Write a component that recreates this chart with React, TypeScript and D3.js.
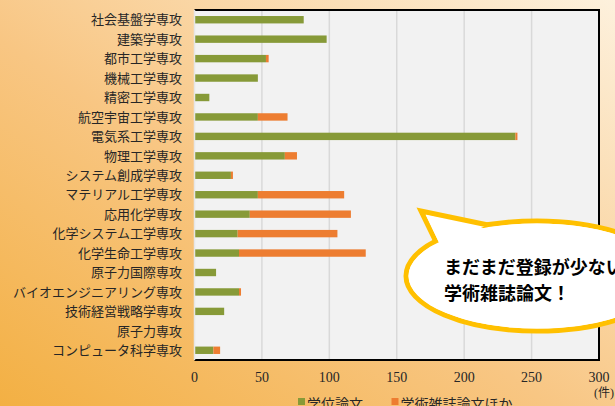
import * as d3 from "d3";
import { useRef, useEffect } from "react";

const categories = [
  "社会基盤学専攻",
  "建築学専攻",
  "都市工学専攻",
  "機械工学専攻",
  "精密工学専攻",
  "航空宇宙工学専攻",
  "電気系工学専攻",
  "物理工学専攻",
  "システム創成学専攻",
  "マテリアル工学専攻",
  "応用化学専攻",
  "化学システム工学専攻",
  "化学生命工学専攻",
  "原子力国際専攻",
  "バイオエンジニアリング専攻",
  "技術経営戦略学専攻",
  "原子力専攻",
  "コンピュータ科学専攻",
];
const thesis = [81, 98, 53, 47, 11, 47, 238, 67, 27, 47, 41, 32, 33, 16, 33, 22, 0, 14];
const journal = [0, 0, 2, 0, 0, 22, 1.5, 9, 1.5, 64, 75, 74, 94, 0, 1.5, 0, 0, 5];
const seriesNames = ["学位論文", "学術雑誌論文ほか"];
const xTicks = [0, 50, 100, 150, 200, 250, 300];

const colors = ["#879a38", "#ed7d31"];

export default function App() {
  const width = 615;
  const height = 406;
  const marginTop = 10;
  const marginBottom = 46;
  const marginLeft = 194.5;
  const marginRight = 16;

  const ref = useRef(null);

  useEffect((): void => {
    if (!ref.current) return;
    const svg = d3.select(ref.current);
    svg.selectAll("*").remove();
    svg.attr("width", width).attr("height", height);

    const x = d3.scaleLinear().domain([0, 300]).range([marginLeft, width - marginRight]);
    const y = d3
      .scaleBand<string>()
      .domain(categories)
      .range([marginTop, height - marginBottom])
      .paddingInner(0.62)
      .paddingOuter(0.31);

    // background gradient
    const defs = svg.append("defs");
    const grad = defs
      .append("linearGradient")
      .attr("id", "bg")
      .attr("x1", "0")
      .attr("y1", "1")
      .attr("x2", "1")
      .attr("y2", "0");
    grad.append("stop").attr("offset", "0").attr("stop-color", "#f3b043");
    grad.append("stop").attr("offset", "0.45").attr("stop-color", "#f8c683");
    grad.append("stop").attr("offset", "1").attr("stop-color", "#fdf1dd");

    svg.append("rect").attr("width", width).attr("height", height).attr("fill", "url(#bg)");

    // plot area
    svg
      .append("rect")
      .attr("x", marginLeft)
      .attr("y", marginTop)
      .attr("width", width - marginRight - marginLeft)
      .attr("height", height - marginBottom - marginTop)
      .attr("fill", "#f2f2f2");

    // gridlines
    svg
      .append("g")
      .selectAll("line")
      .data(xTicks.slice(1, -1))
      .join("line")
      .attr("x1", (d) => x(d))
      .attr("x2", (d) => x(d))
      .attr("y1", marginTop)
      .attr("y2", height - marginBottom)
      .attr("stroke", "#d9d9d9")
      .attr("stroke-width", 1.5);

    // stacked bars
    const rows = categories.map((c, i) => ({ cat: c, a: thesis[i], b: journal[i] }));
    const stack = d3.stack<{ cat: string; a: number; b: number }>().keys(["a", "b"]);
    const layers = stack(rows as any);

    svg
      .append("g")
      .selectAll("g")
      .data(layers)
      .join("g")
      .attr("fill", (_, i) => colors[i])
      .selectAll("rect")
      .data((d) => d)
      .join("rect")
      .attr("x", (d) => x(d[0]))
      .attr("y", (d) => y(d.data.cat)!)
      .attr("width", (d) => Math.max(0, x(d[1]) - x(d[0])))
      .attr("height", y.bandwidth());

    // plot border: black top/right/bottom, light left
    const x0 = marginLeft;
    const x1 = width - marginRight;
    const y0 = marginTop;
    const y1 = height - marginBottom;
    svg
      .append("path")
      .attr("d", `M${x0},${y0}H${x1}V${y1}H${x0}`)
      .attr("fill", "none")
      .attr("stroke", "#000")
      .attr("stroke-width", 2);
    svg
      .append("line")
      .attr("x1", x0)
      .attr("x2", x0)
      .attr("y1", y0)
      .attr("y2", y1)
      .attr("stroke", "#e6e6e6")
      .attr("stroke-width", 1.5);

    // category labels
    svg
      .append("g")
      .selectAll("text")
      .data(categories)
      .join("text")
      .attr("x", 182)
      .attr("y", (d) => y(d)! + y.bandwidth() / 2)
      .attr("dy", "0.36em")
      .attr("text-anchor", "end")
      .attr("font-family", "'Liberation Serif', 'Noto Sans CJK JP', serif")
      .attr("font-size", 13)
      .attr("fill", "#262626")
      .text((d) => d);

    // x tick labels
    svg
      .append("g")
      .selectAll("text")
      .data(xTicks)
      .join("text")
      .attr("x", (d) => x(d))
      .attr("y", 382)
      .attr("text-anchor", "middle")
      .attr("font-family", "'Liberation Serif', serif")
      .attr("font-size", 14)
      .attr("fill", "#262626")
      .text((d) => d);

    svg
      .append("text")
      .attr("x", 604)
      .attr("y", 397)
      .attr("text-anchor", "middle")
      .attr("font-family", "'Liberation Serif', 'Noto Sans CJK JP', serif")
      .attr("font-size", 12)
      .attr("fill", "#262626")
      .text("(件)");

    // legend (cut by the bottom edge, as in the source)
    const legendX = [298, 391.5];
    const lg = svg
      .append("g")
      .selectAll("g")
      .data(seriesNames)
      .join("g")
      .attr("transform", (_, i) => `translate(${legendX[i]},0)`);
    lg.append("rect")
      .attr("x", 0)
      .attr("y", 398)
      .attr("width", 7)
      .attr("height", 7)
      .attr("fill", (_, i) => colors[i]);
    lg.append("text")
      .attr("x", 9)
      .attr("y", 409)
      .attr("font-family", "'Liberation Serif', 'Noto Sans CJK JP', serif")
      .attr("font-size", 14)
      .attr("fill", "#262626")
      .text((d) => d);

    // speech bubble
    const bubble = svg.append("g");
    const cx = 537;
    const cy = 276;
    const rx = 131;
    const ry = 55;
    const tail = `M438,246 L421,211 L488,225`;
    bubble
      .append("ellipse")
      .attr("cx", cx)
      .attr("cy", cy)
      .attr("rx", rx)
      .attr("ry", ry)
      .attr("fill", "#fff")
      .attr("stroke", "#ffc000")
      .attr("stroke-width", 5);
    bubble
      .append("path")
      .attr("d", tail)
      .attr("fill", "#fff")
      .attr("stroke", "#ffc000")
      .attr("stroke-width", 5)
      .attr("stroke-linejoin", "miter");
    // cover tail base seam
    bubble
      .append("ellipse")
      .attr("cx", cx)
      .attr("cy", cy)
      .attr("rx", rx - 2.5)
      .attr("ry", ry - 2.5)
      .attr("fill", "#fff");
    bubble
      .append("path")
      .attr("d", `M441,247 L426,215 L486,229 Z`)
      .attr("fill", "#fff");

    const lines = ["まだまだ登録が少ない", "学術雑誌論文！"];
    bubble
      .selectAll("text")
      .data(lines)
      .join("text")
      .attr("x", 444)
      .attr("y", (_, i) => 274 + i * 26)
      .attr("font-family", "'Noto Sans CJK JP', sans-serif")
      .attr("font-weight", "bold")
      .attr("font-size", 18)
      .attr("fill", "#000")
      .text((d) => d);
  }, []);

  return (
    <svg
      ref={ref}
      style={{ position: "absolute", left: 0, top: 0, display: "block" }}
    />
  );
}
